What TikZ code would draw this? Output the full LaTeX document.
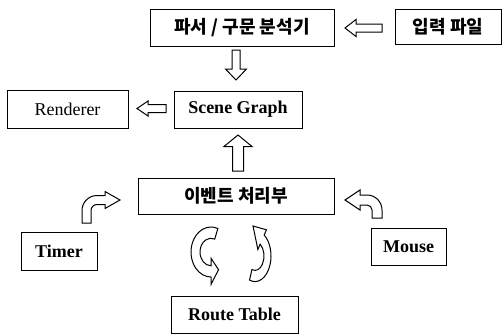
\documentclass[tikz,border=0pt]{standalone}
\usepackage{fontspec}
\setmainfont{Liberation Serif}
\newfontfamily\kr{Noto Sans CJK KR}
\tikzset{
  box/.style={draw, line width=1pt, inner sep=0pt, font=\fontsize{18}{20}\selectfont},
  bbox/.style={box, font=\bfseries\fontsize{18}{20}\selectfont},
  krbox/.style={box, font=\kr\bfseries\fontsize{18}{20}\selectfont},
  fat/.style={draw, fill=white, line width=1pt, line join=miter},
}
\begin{document}
\begin{tikzpicture}[x=1pt, y=-1pt]
\useasboundingbox (0,0) rectangle (503,335);
% boxes
\node[krbox, minimum width=184pt, minimum height=37pt] (parser) at (242,27.5) {파서 / 구문 분석기};
\node[krbox, minimum width=106pt, minimum height=35pt] (input) at (448,26.5) {입력 파일};
\node[box, minimum width=121pt, minimum height=38pt] (renderer) at (67.5,109) {Renderer};
\node[bbox, minimum width=128pt, minimum height=37pt] (scene) at (238,109.5) {Scene Graph};
\node[krbox, minimum width=196pt, minimum height=36pt] (event) at (236,196) {이벤트 처리부};
\node[bbox, minimum width=76pt, minimum height=38pt] (timer) at (59,251) {Timer};
\node[bbox, minimum width=75pt, minimum height=37pt] (mouse) at (408.5,246.5) {Mouse};
\node[bbox, minimum width=127pt, minimum height=37pt] (route) at (234.5,314.5) {Route Table};
% straight block arrows
\draw[fat] (345,28) -- (356,19.5) -- (356,24) -- (382,24) -- (382,32) -- (356,32) -- (356,36.5) -- cycle;
\draw[fat] (236,80) -- (225.5,69) -- (232,69) -- (232,50) -- (240,50) -- (240,69) -- (246.5,69) -- cycle;
\draw[fat] (137,108.5) -- (148,101) -- (148,104.5) -- (166,104.5) -- (166,112.5) -- (148,112.5) -- (148,116) -- cycle;
\draw[fat] (238,135) -- (252,146.5) -- (243.5,146.5) -- (243.5,171) -- (232.5,171) -- (232.5,146.5) -- (224,146.5) -- cycle;
% bent arrows
\draw[fat] (82,223) -- (82,210.5) arc[start angle=180, end angle=270, radius=15] -- (105,195.5) -- (105,191.5) -- (120,200) -- (105,208.5) -- (105,204.5) -- (97,204.5) arc[start angle=270, end angle=180, radius=6] -- (91,223) -- cycle;
\draw[fat] (382,218) -- (382,210) arc[start angle=0, end angle=-90, radius=15] -- (360,195) -- (360,190) -- (345,200) -- (360,210) -- (360,205) -- (367,205) arc[start angle=-90, end angle=0, radius=5] -- (372,218) -- cycle;
% circular arrows
\begin{scope}[shift={(211,252)}, yscale=-1.25]
\draw[fat] (70:20) arc[start angle=70, end angle=270, radius=20] -- (270:26) -- (298:16) -- (270:5) -- (270:11) arc[start angle=270, end angle=70, radius=11] -- cycle;
\end{scope}
\begin{scope}[shift={(255,256)}, yscale=-1.6]
\draw[fat] (250:16) arc[start angle=250, end angle=415, radius=16] -- (55:20) -- (-2,18.75) -- (55:5) -- (55:9) arc[start angle=415, end angle=250, radius=9] -- cycle;
\end{scope}
\end{tikzpicture}
\end{document}
